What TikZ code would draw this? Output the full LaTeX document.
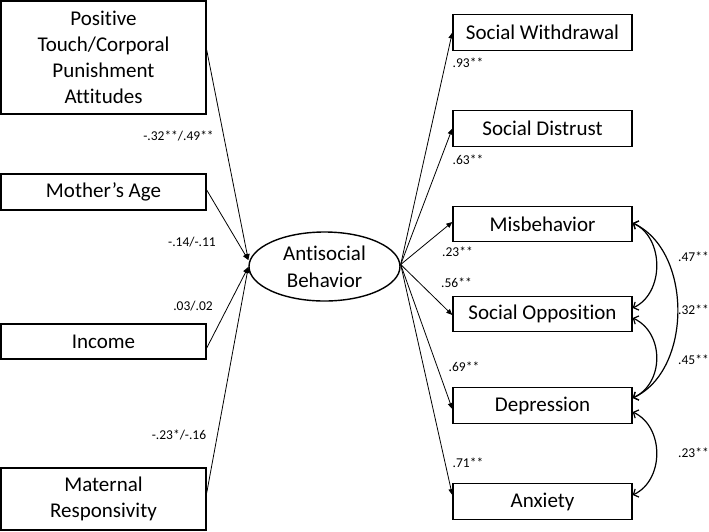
\documentclass[tikz,border=0pt]{standalone}
\usepackage{fontspec}
\setmainfont{Carlito}[Ligatures=NoCommon]
\usetikzlibrary{arrows.meta,calc,shapes.geometric}
\begin{document}
\begin{tikzpicture}[x=1pt,y=1pt,
  box/.style={draw, line width=1.4pt, inner sep=0pt, align=center, font=\fontsize{21}{26}\selectfont},
  lbox/.style={box, minimum width=205pt},
  rbox/.style={box, minimum width=179pt, minimum height=35.5pt},
  lat/.style={draw, ellipse, line width=1.4pt, inner sep=0pt, minimum width=151pt, minimum height=69pt, align=center, font=\fontsize{21}{27}\selectfont},
  pth/.style={line width=0.8pt, -{Triangle[length=6pt,width=5pt]}},
  cov/.style={line width=1.2pt, {Straight Barb[length=4pt,width=9pt]}-{Straight Barb[length=4pt,width=9pt]}},
  lab/.style={inner sep=0pt, font=\fontsize{13.5}{16}\selectfont}
]
\useasboundingbox (0,0) rectangle (709,-531);
% left boxes
\node[lbox, minimum height=113pt] (pt) at (103.5,-57.5) {Positive\\Touch/Corporal\\Punishment\\Attitudes};
\node[lbox, minimum height=36pt] (ma) at (103.5,-192) {Mother’s Age};
\node[lbox, minimum height=35pt] (inc) at (103.5,-341.5) {Income};
\node[lbox, minimum height=62pt] (mr) at (103.5,-499) {Maternal\\Responsivity};
% latent
\node[lat] (ab) at (324.5,-266.5) {Antisocial\\Behavior};
% right boxes
\node[rbox] (sw) at (542.5,-32.5) {Social Withdrawal};
\node[rbox] (sd) at (542.5,-128.5) {Social Distrust};
\node[rbox] (mis) at (542.5,-224) {Misbehavior};
\node[rbox] (so) at (542.5,-314) {Social Opposition};
\node[rbox] (dep) at (542.5,-405.5) {Depression};
\node[rbox] (anx) at (542.5,-501.5) {Anxiety};
% left paths
\draw[pth] ([yshift=7.5pt]pt.east) -- ([yshift=6.5pt]ab.west);
\draw[pth] ([yshift=2pt]ma.east) -- ([yshift=6.5pt]ab.west);
\draw[pth] ([yshift=-6.5pt]inc.east) -- ([yshift=-0.5pt]ab.west);
\draw[pth] ([yshift=6pt]mr.east) -- ([yshift=-0.5pt]ab.west);
% right paths
\draw[pth] ([yshift=2pt]ab.east) -- (sw.west);
\draw[pth] ([yshift=2pt]ab.east) -- (sd.west);
\draw[pth] ([yshift=2pt]ab.east) -- ([yshift=2pt]mis.west);
\draw[pth] ([yshift=2pt]ab.east) -- ([yshift=-1pt]so.west);
\draw[pth] ([yshift=2pt]ab.east) -- ([yshift=-3.5pt]dep.west);
\draw[pth] ([yshift=2pt]ab.east) -- ([yshift=6.5pt]anx.west);
% covariances
\draw[cov] ([yshift=1pt]mis.east) .. controls +(-25:35) and +(25:35) .. ([yshift=6pt]so.east);
\draw[cov] ([yshift=1pt]mis.east) .. controls +(-25:66) and +(25:66) .. ([yshift=7.5pt]dep.east);
\draw[cov] ([yshift=-4pt]so.east) .. controls +(-25:35) and +(25:35) .. ([yshift=7.5pt]dep.east);
\draw[cov] ([yshift=-6.5pt]dep.east) .. controls +(-25:35) and +(25:35) .. ([yshift=6.5pt]anx.east);
% labels
\node[lab] (l1) at (178.5,-136) {-.32**/.49**};
\node[lab] (l2) at (192,-242) {-.14/-.11};
\node[lab] (l3) at (193,-306) {.03/.02};
\node[lab] (l4) at (179,-435) {-.23*/-.16};
\node[lab] (r1) at (468,-63) {.93**};
\node[lab] (r2) at (468,-160) {.63**};
\node[lab] (r3) at (457.5,-252) {.23**};
\node[lab] (r4) at (456.5,-283) {.56**};
\node[lab] (r5) at (464,-367) {.69**};
\node[lab] (r6) at (468,-463) {.71**};
\node[lab, anchor=west] (c1) at (678,-257) {.47**};
\node[lab, anchor=west] (c2) at (678,-310) {.32**};
\node[lab, anchor=west] (c3) at (678,-360) {.45**};
\node[lab, anchor=west] (c4) at (678,-453) {.23**};
\end{tikzpicture}
\end{document}
